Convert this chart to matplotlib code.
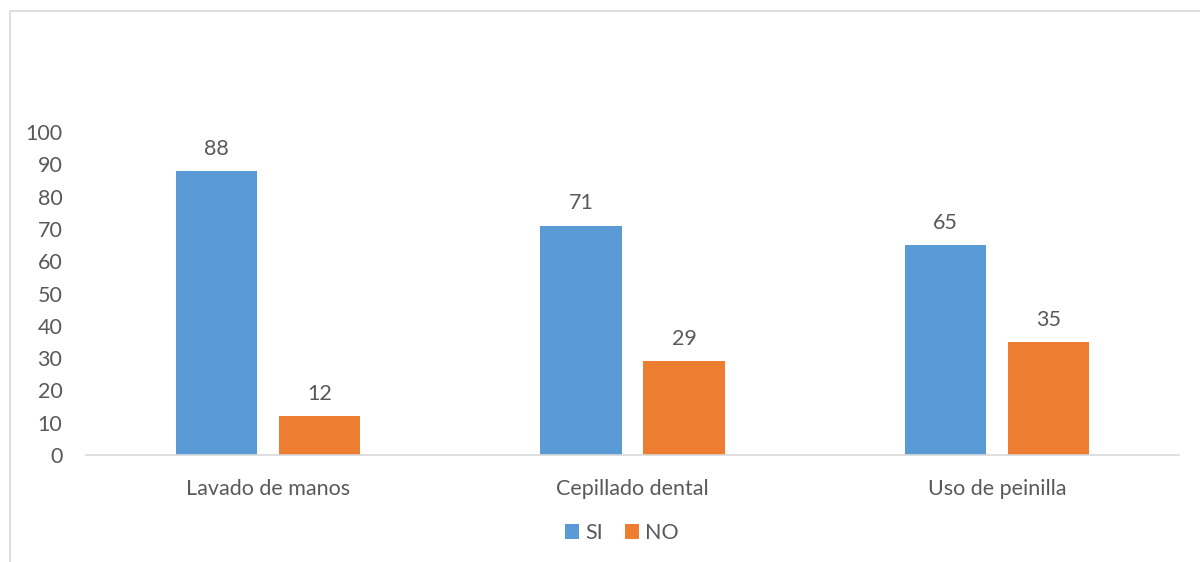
import numpy as np
import matplotlib.pyplot as plt
from matplotlib.patches import Rectangle

# ── data ────────────────────────────────────────────────────────────────────
categories = ["Lavado de manos", "Cepillado dental", "Uso de peinilla"]
si_values = [88, 71, 65]
no_values = [12, 29, 35]
series_names = ["SI", "NO"]

BLUE = "#5B9BD5"
ORANGE = "#ED7D31"
TEXT = "#595959"
FS = 15.5

plt.rcParams["font.family"] = ["Lato", "DejaVu Sans"]

fig = plt.figure(figsize=(12, 5.62), dpi=100)
ax = fig.add_axes([86 / 1200, 1 - 455 / 562, (1179 - 86) / 1200, (455 - 132) / 562])

x = np.arange(len(categories))
width = 0.223
offset = 0.1415

bars_si = ax.bar(x - offset, si_values, width, color=BLUE, label=series_names[0])
bars_no = ax.bar(x + offset, no_values, width, color=ORANGE, label=series_names[1])

# value labels above each bar
for bars in (bars_si, bars_no):
    for b in bars:
        ax.annotate(f"{b.get_height():g}", (b.get_x() + b.get_width() / 2, b.get_height()),
                    xytext=(0, 16), textcoords="offset points", ha="center", va="center",
                    fontsize=FS, color=TEXT)

ax.set_xlim(-0.5, len(categories) - 0.5)
ax.set_ylim(0, 100)
ax.set_yticks(range(0, 101, 10))
ax.set_xticks(x)
ax.set_xticklabels(categories)
ax.tick_params(axis="both", length=0, labelsize=FS, labelcolor=TEXT)
ax.tick_params(axis="y", pad=17)
ax.tick_params(axis="x", pad=17)

for side in ("top", "right", "left"):
    ax.spines[side].set_visible(False)
ax.spines["bottom"].set_color("#d9d9d9")
ax.spines["bottom"].set_linewidth(1.2)

leg = fig.legend(handles=[bars_si, bars_no], labels=series_names, loc="center",
                 bbox_to_anchor=(622 / 1200, 1 - 533 / 562), ncol=2, frameon=False,
                 fontsize=FS, handlelength=0.65, handleheight=0.65, handletextpad=0.3,
                 columnspacing=1.0)
for t in leg.get_texts():
    t.set_color(TEXT)

# chart area border
fig.patches.append(Rectangle((10 / 1200, -0.1), 1.2, 1 - 11 / 562 + 0.1,
                             transform=fig.transFigure, fill=False,
                             edgecolor="#d9d9d9", linewidth=1.2))

fig.savefig("out.png", dpi=100)
